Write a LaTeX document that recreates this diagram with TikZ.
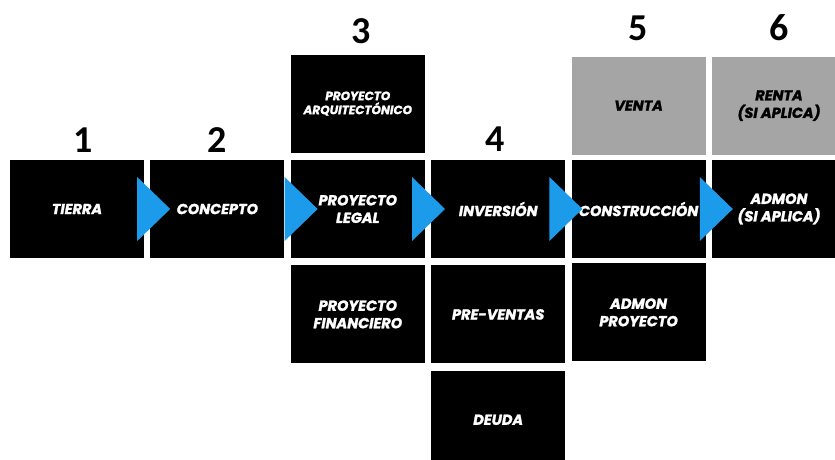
\documentclass[tikz,border=0pt]{standalone}
\usepackage{fontspec}
\usepackage{xcolor}
\usepackage{tikz}
\usetikzlibrary{positioning}
\newfontfamily\cajafont{Poppins}[BoldItalicFeatures={FakeBold=1.6}]
\newfontfamily\numfont{Carlito}
\definecolor{etapablue}{HTML}{1C9BEA}
\definecolor{etapagray}{HTML}{A5A5A5}

\begin{document}
\begin{tikzpicture}[
  x=1pt, y=-1pt,
  node distance=7pt and 6pt,
  box/.style={fill=black, text=white, align=center, inner sep=0pt,
    minimum width=134pt, minimum height=98pt,
    font=\cajafont\bfseries\itshape\fontsize{14.5}{17.5}\selectfont},
  boxgris/.style={box, fill=etapagray, text=black},
  numero/.style={inner sep=0pt, font=\numfont\bfseries\fontsize{38}{40}\selectfont},
  flecha/.style={fill=etapablue}
]
\useasboundingbox (0,0) rectangle (835,459);
\clip (0,0) rectangle (835,459);
\node[box] (tierra) at (77,209) {TIERRA};
\node[box, right=of tierra] (concepto) {CONCEPTO};
\node[box, right=of concepto] (legal) {PROYECTO\\LEGAL};
\node[box, above=of legal, font=\cajafont\bfseries\itshape\fontsize{12}{14}\selectfont]
  (arquitectonico) {PROYECTO\\ARQUITECTÓNICO};
\node[box, below=of legal] (financiero) {PROYECTO\\FINANCIERO};
\node[box, right=of legal] (inversion) {INVERSIÓN};
\node[box, below=of inversion] (preventas) {PRE-VENTAS};
\node[box, below=of preventas] (deuda) {DEUDA};
\node[box, right=of inversion] (construccion) {CONSTRUCCIÓN};
\node[boxgris, above=5pt of construccion] (venta) {VENTA};
\node[box, below=5pt of construccion] (admonproy) {ADMON\\PROYECTO};
\node[box, right=of construccion] (admon) {ADMON\\(SI APLICA)};
\node[boxgris, above=5pt of admon] (renta) {RENTA\\(SI APLICA)};

\node[numero, above=7pt of tierra, xshift=6pt] (n1) {1};
\node[numero, above=7pt of concepto] (n2) {2};
\node[numero, above=10pt of arquitectonico, xshift=3pt] (n3) {3};
\node[numero, above=8pt of inversion, xshift=-3pt] (n4) {4};
\node[numero, above=15pt of venta] (n5) {5};
\node[numero, above=15pt of renta] (n6) {6};

\foreach \a/\s in {tierra/-7, concepto/0, legal/-13, inversion/-16, construccion/-6}
  \fill[flecha] ([xshift=\s pt, yshift=32pt]\a.east) -- ++(33,32) -- ++(-33,32) -- cycle;
\end{tikzpicture}
\end{document}
